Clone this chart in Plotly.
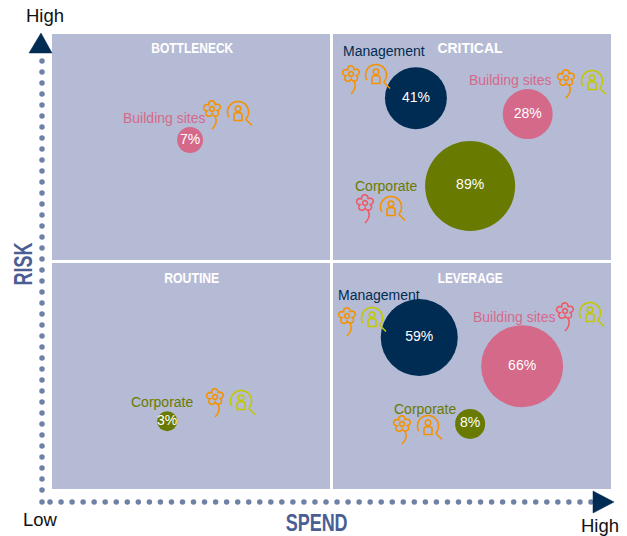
import numpy as np
import plotly.graph_objects as go

W, H = 627, 536
# panel frame in pixels
PL, PR, PT, PB = 52, 611, 34, 489
SX0, SX1, SY0, SY1 = 330, 333, 260, 263

# ---- data ----
groups = ["Management", "Building sites", "Corporate", "Building sites", "Corporate",
          "Management", "Building sites", "Corporate"]
quadrant = ["CRITICAL", "CRITICAL", "CRITICAL", "BOTTLENECK", "ROUTINE",
            "LEVERAGE", "LEVERAGE", "LEVERAGE"]
spend = [65.1, 85.1, 74.8, 24.7, 20.6, 65.7, 84.1, 74.8]
risk = [85.9, 82.4, 66.6, 76.7, 14.9, 33.3, 27.0, 14.3]
percent = [41, 28, 89, 7, 3, 59, 66, 8]
bubble_weight = [40, 26, 84.4, 7, 4.2, 61.8, 70, 9.4]
quadrant_names = ["BOTTLENECK", "CRITICAL", "ROUTINE", "LEVERAGE"]

NAVY, PINK, OLIVE = "#002b52", "#d5698a", "#697a00"
ORANGE, LIME, RED = "#f39200", "#c2c800", "#ee5a64"
PANEL = "#b6bbd5"
DOT = "#6f82a6"
AXIS_TXT = "#4a5e94"
group_color = {"Management": NAVY, "Building sites": PINK, "Corporate": OLIVE}

sx = (PR - PL) / 100
sy = (PB - PT) / 100
xr = [(0 - PL) / sx, (W - PL) / sx]
yr = [(PB - H) / sy, PB / sy]

def px(x):
    return x / W

def py(y):
    return 1 - y / H

def dx(x):
    return (np.asarray(x, float) - PL) / sx

def dy(y):
    return (PB - np.asarray(y, float)) / sy

shapes = []

def poly(points, color, width=1.6, fill=None, close=False):
    d = "M" + " L".join(f"{px(a):.5f},{py(b):.5f}" for a, b in points)
    if close:
        d += " Z"
    s = dict(type="path", xref="paper", yref="paper", path=d,
             line=dict(color=color, width=width), layer="above")
    if fill:
        s["fillcolor"] = fill
    shapes.append(s)

def flower(cx, cy, color):
    t = np.linspace(0, 2 * np.pi, 120)
    r = 5.0 + 3.6 * np.abs(np.cos(2.5 * (t + 0.35))) ** 0.7
    poly(list(zip(cx + r * np.cos(t), cy - 1 + 0.95 * r * np.sin(t))), color, close=True)
    poly(list(zip(cx + 2.4 * np.cos(t), cy - 1 + 2.4 * np.sin(t))), color, close=True)
    s = np.linspace(0, 1, 12)
    poly(list(zip(cx + 3 + 2.2 * np.sin(s * 2.4) - 4.5 * s ** 2, cy + 6 + 13 * s)), color)

def magnifier(cx, cy, color):
    t = np.radians(np.linspace(150, 400, 50))
    poly(list(zip(cx + 10.5 * np.cos(t), cy + 10.5 * np.sin(t))), color)
    t2 = np.linspace(0, 2 * np.pi, 30)
    poly(list(zip(cx + 2.8 * np.cos(t2), cy - 3.2 + 2.8 * np.sin(t2))), color)
    poly([(cx - 4, cy + 8.5), (cx - 4, cy + 2.2), (cx - 2.5, cy + 0.7), (cx + 2.5, cy + 0.7),
          (cx + 4, cy + 2.2), (cx + 4, cy + 8.5)], color, close=True)
    poly([(cx + 7.5, cy + 7), (cx + 14, cy + 13.5)], color)

# panels
for x0, x1, y0, y1 in [(PL, SX0, PT, SY0), (SX1, PR, PT, SY0), (PL, SX0, SY1, PB), (SX1, PR, SY1, PB)]:
    shapes.append(dict(type="rect", xref="paper", yref="paper", x0=px(x0), x1=px(x1),
                       y0=py(y1), y1=py(y0), fillcolor=PANEL, line_width=0, layer="below"))

# arrow heads
poly([(29, 53), (52, 53), (41, 33)], NAVY, 0.5, NAVY, True)
poly([(593, 491), (593, 513), (614, 502)], NAVY, 0.5, NAVY, True)

# icons: flower centre, magnifier centre, colours
icons = [(351, 75, 376, 75, ORANGE, ORANGE), (566, 79, 592, 81, ORANGE, LIME),
         (365, 204, 391, 207, RED, ORANGE), (212, 110, 238, 112, ORANGE, ORANGE),
         (215, 398, 241, 401, ORANGE, LIME), (347, 317, 372, 318, ORANGE, LIME),
         (565, 312, 590, 313, RED, LIME), (402, 425, 428, 426, ORANGE, ORANGE)]
for fx, fy, mx, my, c1, c2 in icons:
    flower(fx, fy, c1)
    magnifier(mx, my, c2)

fig = go.Figure()

# dotted axes
vy = np.arange(61, 494, 11.0)
hx = np.r_[42, np.arange(50, 592, 11.04)]
fig.add_trace(go.Scatter(x=dx(np.r_[np.full(vy.size, 42), hx]),
                         y=dy(np.r_[vy, np.full(hx.size, 502)]), mode="markers",
                         marker=dict(size=5.5, color=DOT), hoverinfo="skip", showlegend=False))

# bubbles
fig.add_trace(go.Scatter(x=spend, y=risk, mode="markers+text",
                         text=[f"{p}%" for p in percent], textposition="middle center",
                         textfont=dict(family="Liberation Sans", size=14, color="white"),
                         marker=dict(size=bubble_weight, sizemode="area", sizeref=1 / 48,
                                     opacity=1, color=[group_color[g] for g in groups], line_width=0),
                         customdata=quadrant, showlegend=False))

ann = []

def label(x, y, text, size, color, family="Liberation Sans", angle=0):
    ann.append(dict(xref="paper", yref="paper", x=px(x), y=py(y), text=text, showarrow=False,
                    xanchor="center", yanchor="middle", textangle=angle,
                    font=dict(family=family, size=size, color=color)))

name_pos = [(384, 51), (510, 80), (386, 186), (164, 118), (162, 402), (379, 295), (514, 317), (425, 409)]
for (x, y), g in zip(name_pos, groups):
    label(x, y, g, 14, group_color[g])

title_pos = [(192, 47), (470, 47), (192, 277), (470, 277)]
for (x, y), t in zip(title_pos, quadrant_names):
    label(x, y, f"<b>{t}</b>", 15, "white")

label(45, 16, "High", 18.5, "#111111")
label(40, 519, "Low", 18.5, "#111111")
label(600, 525, "High", 18.5, "#111111")
label(23, 264, "<b>RISK</b>", 26, AXIS_TXT, "Liberation Sans", -90)
label(316, 522.5, "<b>SPEND</b>", 23, AXIS_TXT)

# squeeze the condensed headings to their reference widths
post = """
document.body.style.margin='0';
document.documentElement.style.overflow='hidden';
var widths={BOTTLENECK:82,CRITICAL:65,ROUTINE:55,LEVERAGE:65,RISK:43,SPEND:62};
document.querySelectorAll('.annotation-text').forEach(function(t){
  var w=widths[t.textContent.trim()];
  if(w){t.setAttribute('textLength',w);t.setAttribute('lengthAdjust','spacingAndGlyphs');}
});
"""

fig.update_layout(width=W, height=H, margin=dict(l=0, r=0, t=0, b=0),
                  paper_bgcolor="white", plot_bgcolor="white",
                  shapes=shapes, annotations=ann, showlegend=False,
                  xaxis=dict(range=xr, visible=False, fixedrange=True),
                  yaxis=dict(range=yr, visible=False, fixedrange=True))
fig.write_html("out.html", config=dict(displayModeBar=False), post_script=post)
